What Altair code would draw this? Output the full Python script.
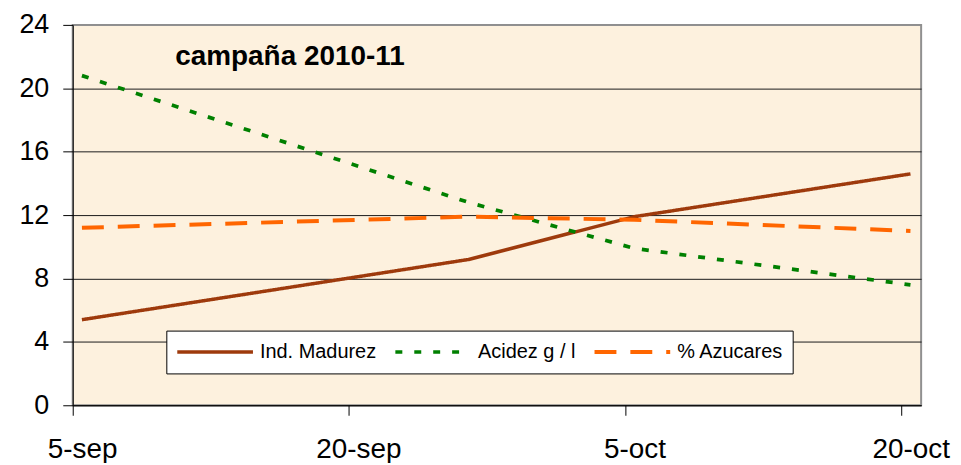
import altair as alt
import pandas as pd

# ---- data ----
dates = ["2010-09-05", "2010-09-26", "2010-10-05", "2010-10-20"]
madurez = [5.4, 9.2, 11.9, 14.6]
acidez = [20.8, 12.8, 9.9, 7.6]
azucares = [11.2, 11.9, 11.7, 11.0]

series_names = ["Ind. Madurez", "Acidez g / l", "% Azucares"]
series_colors = ["#9E3A0C", "#008000", "#FF6600"]

tick_dates = ["2010-09-05", "2010-09-20", "2010-10-05", "2010-10-20"]
tick_labels = ["5-sep", "20-sep", "5-oct", "20-oct"]
y_ticks = [0, 4, 8, 12, 16, 20, 24]
title_text = "campaña 2010-11"

start = pd.Timestamp("2010-09-05")
day = lambda d: (pd.Timestamp(d) - start).days

rows = []
for name, vals in zip(series_names, [madurez, acidez, azucares]):
    for d, v in zip(dates, vals):
        # Excel date axis: the point sits in the middle of its day
        rows.append({"serie": name, "dia": day(d) + 0.5, "valor": v})
df = pd.DataFrame(rows)

tick_days = [day(d) for d in tick_dates]
label_expr = (
    "[" + ",".join(f"'{t}'" for t in tick_labels) + "]"
    "[indexof([" + ",".join(str(t) for t in tick_days) + "], datum.value)]"
)

FONT = "Liberation Sans"

legend = alt.Legend(
    orient="none", legendX=94, legendY=307, direction="horizontal", columns=3,
    title=None, symbolType="stroke", symbolSize=5776, symbolStrokeWidth=4,
    clipHeight=25, labelFontSize=20, labelFont=FONT, labelColor="black",
    labelOffset=5, columnPadding=17, padding=9,
    fillColor="white", strokeColor="black",
)

lines = alt.Chart(df).mark_line().encode(
    x=alt.X("dia:Q",
            scale=alt.Scale(domain=[0, 46.08], nice=False, zero=False),
            axis=alt.Axis(values=tick_days, labelExpr=label_expr, title=None,
                          grid=False, tickSize=10, labelOffset=9.5,
                          labelFontSize=28, labelPadding=20, labelFlush=False,
                          labelOverlap=False, domainColor="black",
                          tickColor="black", labelColor="black", labelFont=FONT)),
    y=alt.Y("valor:Q",
            scale=alt.Scale(domain=[0, 24], nice=False),
            axis=alt.Axis(values=y_ticks, title=None, tickSize=10,
                          labelFontSize=27, labelPadding=14, labelFont=FONT,
                          labelColor="black", domainColor="black",
                          tickColor="black",
                          gridColor={"condition": {"test": "datum.value == 24",
                                                   "value": "#909090"},
                                     "value": "#1a1a1a"},
                          gridWidth=1)),
    color=alt.Color("serie:N",
                    scale=alt.Scale(domain=series_names, range=series_colors),
                    sort=series_names, legend=legend),
    strokeDash=alt.StrokeDash("serie:N",
                              scale=alt.Scale(domain=series_names,
                                              range=[[1, 0], [7, 12], [22, 14]]),
                              sort=series_names, legend=legend),
    strokeWidth=alt.StrokeWidth("serie:N",
                                scale=alt.Scale(domain=series_names,
                                                range=[3.5, 4, 4]),
                                legend=None),
)

title = alt.Chart(pd.DataFrame({"t": [title_text]})).mark_text(
    font=FONT, fontSize=28, fontWeight="bold", align="left",
    baseline="alphabetic", color="black",
).encode(text="t:N", x=alt.value(103), y=alt.value(40))

chart = alt.layer(lines, title).properties(
    width=852, height=382,
    autosize=alt.AutoSizeParams(type="none"),
    padding={"left": 65, "top": 16, "right": 32, "bottom": 57},
    background="white",
).configure_view(
    fill="#FDF1DE", stroke="#909090", strokeWidth=2,
)

chart.save("out.html", embed_options={"renderer": "svg", "actions": False})
